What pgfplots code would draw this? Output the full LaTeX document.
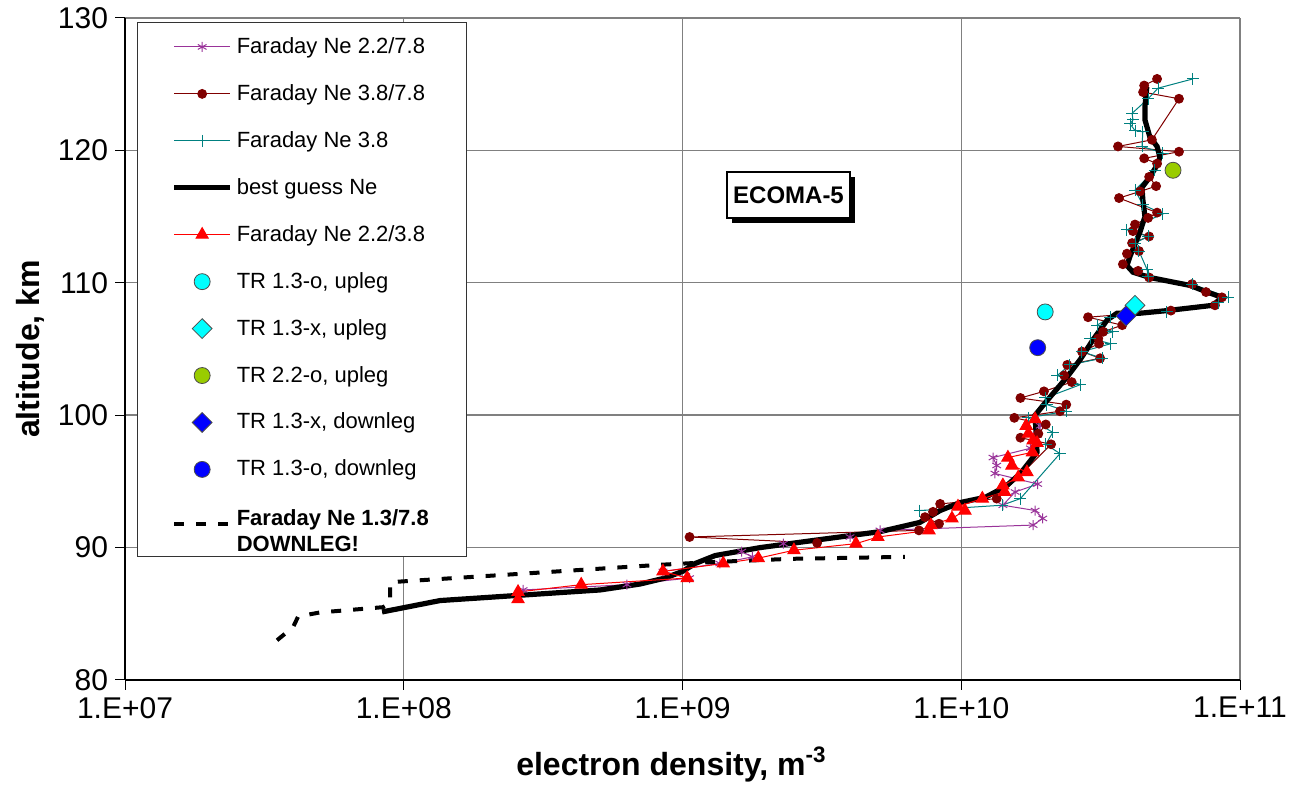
\documentclass[border=0pt]{standalone}
\usepackage{fontspec}
\setmainfont{Liberation Sans}
\usepackage{pgfplots}
\pgfplotsset{compat=1.18}
\definecolor{fpurple}{RGB}{153,51,153}
\definecolor{fdred}{RGB}{128,0,0}
\definecolor{fteal}{RGB}{0,128,128}
\definecolor{tgreen}{RGB}{153,204,0}
\definecolor{tcyan}{RGB}{0,255,255}

\begin{document}
\begin{tikzpicture}
\begin{axis}[
  name=ax,
  scale only axis, width=557.5pt, height=331pt,
  xmode=log, xmin=1e7, xmax=1e11, ymin=80, ymax=130,
  xtick={1e7,1e8,1e9,1e10,1e11},
  xticklabels={1.E+07,1.E+08,1.E+09,1.E+10,1.E+11},
  ytick={80,90,100,110,120,130},
  xminorticks=false,
  axis x line*=bottom, axis y line*=left,
  axis line style={-, black, line width=0.7pt},
  grid=major, major grid style={gray, line width=0.7pt},
  tick align=outside, major tick length=5pt, tick style={black, line width=0.5pt},
  ticklabel style={font=\fontsize{15}{18}\selectfont},
  /pgf/number format/assume math mode=true,
  xlabel={\textbf{electron density, m\textsuperscript{-3}}},
  ylabel={\textbf{altitude, km}},
  label style={font=\fontsize{16}{19}\selectfont},
  xlabel style={at={(rel axis cs:0.49,-0.128)}, anchor=center},
  ylabel style={at={(rel axis cs:-0.085,0.5)}, anchor=center},
  legend style={at={(rel axis cs:0.0108,0.994)}, anchor=north west,
    draw=black!80, line width=0.5pt, fill=white,
    font=\fontsize{11}{13}\selectfont, row sep=10pt,
    inner xsep=17pt, inner ysep=5.5pt, cells={anchor=west}},
  legend cell align=left,
  legend image code/.code={\draw[mark repeat=2,mark phase=2,#1] plot coordinates {(0pt,0pt) (14pt,0pt) (28pt,0pt)};},
]
% Faraday Ne 2.2/7.8
\addplot[fpurple, line width=0.5pt, mark=asterisk, mark size=2.5pt] coordinates {
(2.68e8,86.8) (6.32e8,87.2) (1.06e9,87.7) (8.51e8,88.2) (1.36e9,88.8)
(1.78e9,89.3) (1.63e9,89.7) (2.30e9,90.3) (3.99e9,90.8) (5.11e9,91.3)
(1.81e10,91.7) (1.96e10,92.2) (1.84e10,92.8) (1.41e10,93.2) (1.56e10,94.2)
(1.88e10,94.8) (1.32e10,95.6) (1.34e10,96.2) (1.30e10,96.8) (1.77e10,97.5)
(1.87e10,98.5) (1.92e10,99.2)
};
\addlegendentry{Faraday Ne 2.2/7.8}
% Faraday Ne 3.8/7.8
\addplot[fdred, line width=0.5pt, mark=*, mark size=2.2pt, mark options={fill=fdred}] coordinates {
(3.04e9,90.35) (1.06e9,90.8) (7.05e9,91.3) (8.32e9,91.8) (7.41e9,92.3)
(7.92e9,92.7) (8.40e9,93.3) (1.34e10,93.7) (2.10e10,97.8) (1.63e10,98.3)
(1.89e10,98.6) (2.01e10,99.3) (1.55e10,99.8) (2.26e10,100.3) (2.38e10,100.8)
(1.63e10,101.3) (1.98e10,101.8) (2.49e10,102.5) (2.34e10,103.0) (2.40e10,103.8)
(3.15e10,104.3) (2.71e10,104.8) (3.12e10,105.4) (3.10e10,105.8) (3.23e10,106.3)
(3.78e10,106.8) (2.85e10,107.4) (5.65e10,107.9) (8.13e10,108.3) (8.61e10,108.9)
(7.55e10,109.3) (6.73e10,109.9) (4.72e10,110.4) (4.31e10,110.9) (3.80e10,111.4)
(3.93e10,112.2) (4.34e10,112.4) (4.10e10,113.0) (4.72e10,113.5) (4.13e10,113.9)
(4.20e10,114.4) (4.68e10,114.9) (5.04e10,115.3) (3.68e10,116.4) (4.38e10,116.9)
(5.00e10,117.3) (4.72e10,118.0) (5.04e10,119.0) (4.53e10,119.4) (6.04e10,119.9)
(3.65e10,120.3) (4.83e10,120.8) (6.04e10,123.9) (4.49e10,124.4) (4.53e10,124.9)
(5.04e10,125.4)
};
\addlegendentry{Faraday Ne 3.8/7.8}
% Faraday Ne 3.8
\addplot[fteal, line width=0.5pt, mark=+, mark size=3pt] coordinates {
(7.11e9,92.8) (1.40e10,93.2) (1.63e10,93.7) (2.26e10,97.1) (2.01e10,97.8)
(2.13e10,98.7) (1.74e10,99.8) (2.38e10,100.3) (2.03e10,100.8) (2.00e10,101.3)
(2.67e10,102.3) (2.21e10,103.0) (2.45e10,103.8) (3.20e10,104.3) (2.71e10,104.8)
(3.44e10,105.4) (2.90e10,105.8) (3.50e10,106.3) (3.07e10,106.8) (3.42e10,107.4)
(5.47e10,107.8) (8.34e10,108.5) (9.06e10,108.9) (6.73e10,109.9) (4.68e10,110.5)
(4.64e10,111.0) (4.34e10,112.4) (4.20e10,113.0) (4.68e10,113.5) (3.93e10,114.0)
(5.29e10,115.2) (4.48e10,115.9) (4.20e10,117.0) (4.95e10,118.5) (5.29e10,119.8)
(4.45e10,120.3) (4.48e10,121.4) (4.20e10,121.5) (4.03e10,122.0) (4.13e10,122.3)
(4.10e10,122.8) (4.68e10,123.9) (5.08e10,124.7) (6.78e10,125.4)
};
\addlegendentry{Faraday Ne 3.8}
% best guess Ne
\addplot[black, line width=2.6pt, no marks] coordinates {
(8.36e7,85.14) (1.35e8,86.0) (1.88e8,86.2) (2.61e8,86.4) (5.06e8,86.8)
(7.05e8,87.25) (8.65e8,87.7) (1.0e9,88.2) (1.11e9,88.8) (1.31e9,89.4)
(1.9e9,90.0) (3.1e9,90.6) (5.1e9,91.2) (7.1e9,91.9) (8.4e9,92.8)
(9.9e9,93.4) (1.22e10,93.8) (1.44e10,94.6) (1.63e10,95.6) (1.87e10,97.2)
(1.84e10,100.0) (2.03e10,101.1) (2.40e10,102.9) (2.67e10,104.2) (2.97e10,105.7)
(3.34e10,107.2) (3.62e10,107.7) (4.37e10,107.7) (5.47e10,107.9) (8.0e10,108.3)
(8.62e10,108.9) (7.62e10,109.3) (6.62e10,109.8) (4.75e10,110.4) (4.13e10,110.8)
(3.93e10,111.3) (4.03e10,112.0) (4.37e10,113.8) (4.56e10,115.0) (4.48e10,116.3)
(4.45e10,117.2) (4.75e10,118.0) (5.08e10,119.0) (5.16e10,119.5) (5.04e10,120.3)
(4.75e10,121.0) (4.56e10,122.3) (4.56e10,123.3) (4.63e10,124.8)
};
\addlegendentry{best guess Ne}
% Faraday Ne 2.2/3.8
\addplot[red, line width=0.5pt, mark=triangle*, mark size=3.5pt, mark options={fill=red}] coordinates {
(2.57e8,86.1) (2.57e8,86.65) (4.33e8,87.2) (1.04e9,87.7) (8.51e8,88.2)
(1.40e9,88.8) (1.87e9,89.2) (2.51e9,89.8) (4.19e9,90.3) (5.02e9,90.8)
(7.66e9,91.3) (7.78e9,91.7) (9.26e9,92.2) (1.03e10,92.8) (9.73e9,93.1)
(1.19e10,93.7) (1.43e10,94.2) (1.41e10,94.7) (1.60e10,95.3) (1.72e10,95.7)
(1.52e10,96.2) (1.47e10,96.8) (1.80e10,97.2) (1.87e10,97.9) (1.81e10,98.1)
(1.74e10,98.6) (1.71e10,99.2) (1.84e10,99.7)
};
\addlegendentry{Faraday Ne 2.2/3.8}
\addplot[only marks, mark=*, mark size=4pt, mark options={fill=tcyan, draw=black!70, line width=0.4pt}] coordinates {(2.00e10,107.8)};
\addlegendentry{TR 1.3-o, upleg}
\addplot[only marks, mark=square*, mark size=3.5pt, mark options={rotate=45, fill=tcyan, draw=black!70, line width=0.4pt}] coordinates {(4.20e10,108.3)};
\addlegendentry{TR 1.3-x, upleg}
\addplot[only marks, mark=*, mark size=4pt, mark options={fill=tgreen, draw=black!70, line width=0.4pt}] coordinates {(5.75e10,118.5)};
\addlegendentry{TR 2.2-o, upleg}
\addplot[only marks, mark=square*, mark size=3.5pt, mark options={rotate=45, fill=blue, draw=black!70, line width=0.4pt}] coordinates {(3.90e10,107.5)};
\addlegendentry{TR 1.3-x, downleg}
\addplot[only marks, mark=*, mark size=4pt, mark options={fill=blue, draw=black!70, line width=0.4pt}] coordinates {(1.88e10,105.1)};
\addlegendentry{TR 1.3-o, downleg}
% Faraday Ne 1.3/7.8 downleg
\addplot[black, line width=2pt, dash pattern=on 5pt off 6pt, no marks] coordinates {
(3.51e7,83.0) (4.01e7,84.0) (4.18e7,84.8) (5.0e7,85.1) (8.43e7,85.5)
(8.94e7,85.8) (8.94e7,87.3) (9.15e7,87.4) (8.3e8,88.7) (1.26e9,88.9)
(2.43e9,89.15) (6.28e9,89.3)
};
\addlegendentry{\textbf{\begin{tabular}{@{}l@{}}Faraday Ne 1.3/7.8\\DOWNLEG!\end{tabular}}}
\node[fill=black, minimum width=61.5pt, minimum height=23pt, inner sep=0pt] at ([xshift=2.5pt,yshift=-2.5pt]axis cs:2.40e9,116.63) {};
\node[draw=black, fill=white, line width=0.6pt, minimum width=61.5pt, minimum height=23pt, inner sep=0pt, font=\bfseries\fontsize{12}{14}\selectfont] at (axis cs:2.40e9,116.63) {ECOMA-5};
\end{axis}
\path (ax.south west) ++(-62.5pt,-50pt) coordinate (bl);
\path (ax.north east) ++(31pt,9pt) coordinate (tr);
\path (bl) rectangle (tr);
\end{tikzpicture}
\end{document}
